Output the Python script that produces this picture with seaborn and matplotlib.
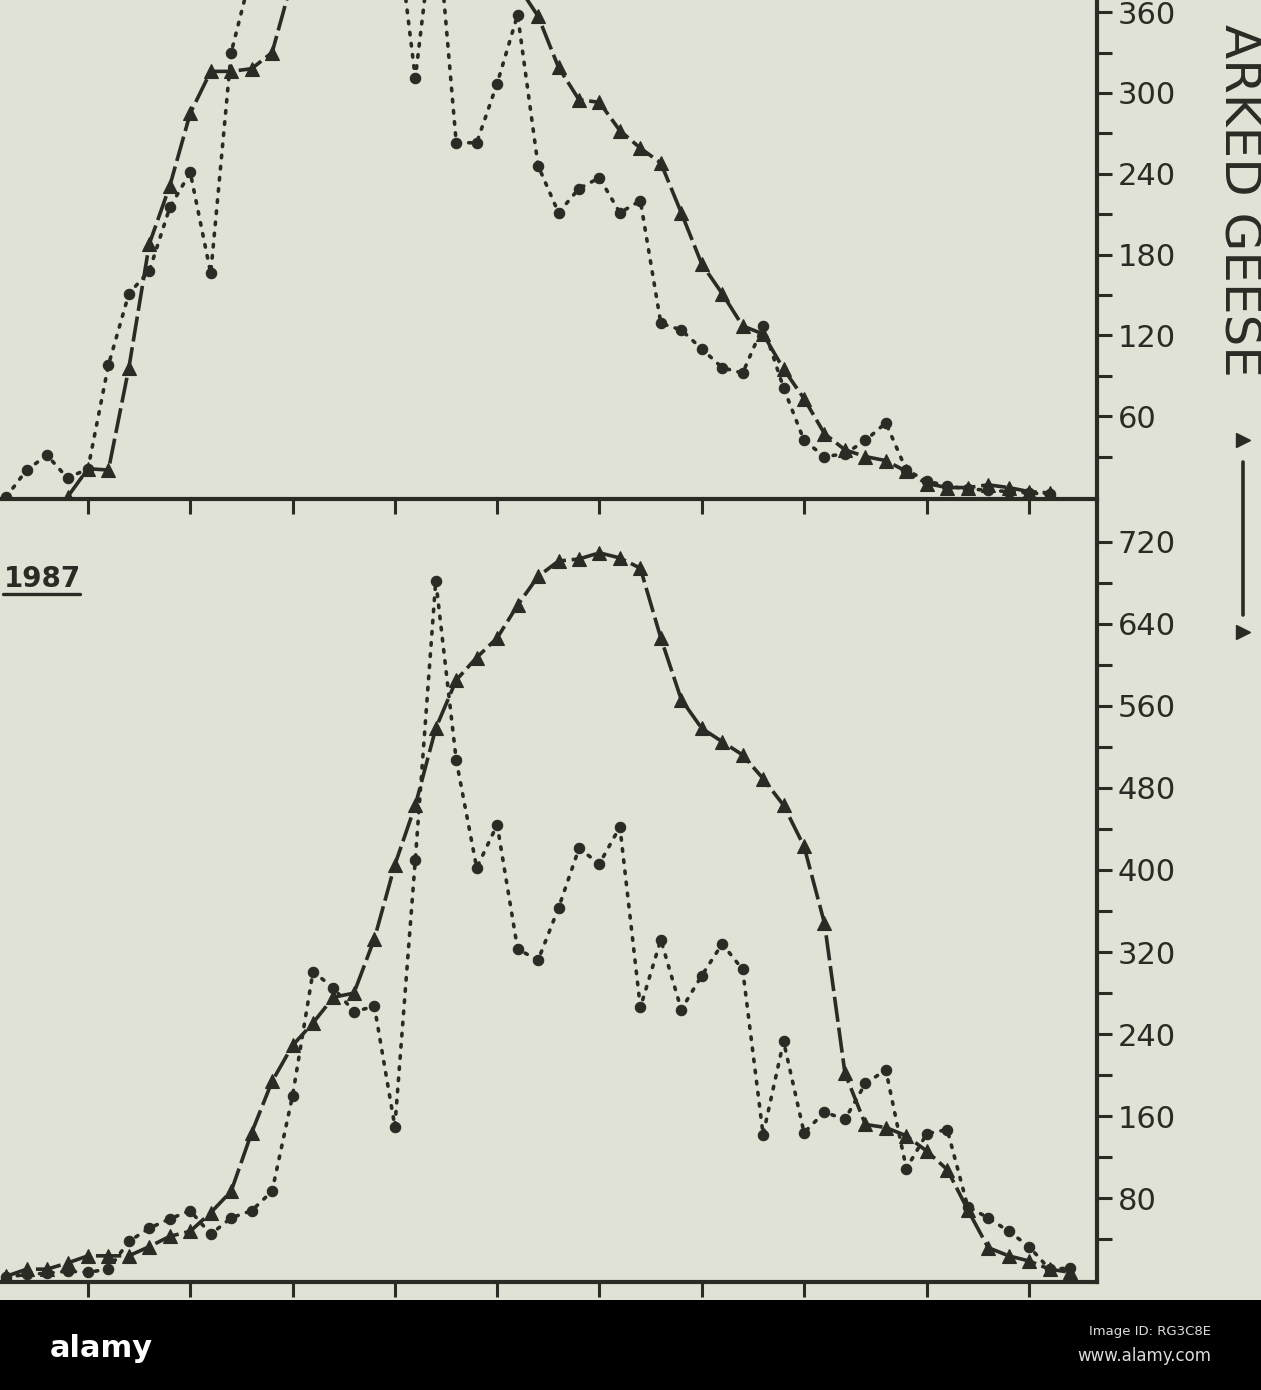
import numpy as np
import pandas as pd
import matplotlib
matplotlib.use("Agg")
import matplotlib.pyplot as plt
import seaborn as sns
from matplotlib.lines import Line2D
from matplotlib.patches import Rectangle
from matplotlib.ticker import FixedLocator

# ------------------------------------------------------------------ data
# x = day index (one point per day); ticks at the marked dates
tick_days = [0, 5, 10, 15, 20, 25, 30, 35, 41, 46]

# upper panel (year cut off at the top of the picture)
top_tri_days = list(range(-1, 48))
top_tri = [0, 21, 20, 96, 188, 231, 285, 316, 316, 318, 330, 385, 400, 415, 430,
           440, 445, 440, 430, 420, 405, 395, 380, 357, 319, 295, 293, 272, 259,
           248, 211, 173, 151, 127, 121, 95, 73, 47, 35, 30, 27, 19, 10, 7, 7, 9,
           7, 4, 3]
top_dot_days = list(range(-4, 48))
top_dot = [0, 20, 31, 14, 21, 98, 151, 168, 215, 241, 166, 330, 390, 420, 450,
           470, 445, 460, 440, 437, 311, 440, 263, 263, 307, 358, 246, 211, 229,
           237, 211, 220, 129, 124, 110, 96, 92, 127, 81, 42, 30, 32, 42, 55, 20,
           12, 8, 6, 5, 4, 3, 2]

# lower panel: 1987
low_days = list(range(-4, 49))
low_tri = [4, 11, 11, 17, 24, 24, 24, 33, 43, 48, 66, 87, 144, 194, 229, 251,
           276, 280, 333, 405, 463, 538, 585, 607, 626, 658, 686, 701, 703, 709,
           704, 694, 626, 566, 538, 525, 512, 489, 463, 423, 348, 202, 152, 149,
           141, 126, 108, 69, 32, 24, 19, 11, 8]
low_dot = [3, 6, 7, 9, 8, 11, 38, 51, 60, 68, 45, 61, 68, 87, 180, 301, 285,
           262, 267, 150, 410, 682, 507, 402, 444, 323, 312, 363, 421, 406, 442,
           266, 332, 264, 297, 328, 303, 142, 233, 144, 164, 157, 192, 205, 109,
           143, 147, 72, 61, 48, 33, 11, 12]

top_yticks = [60, 120, 180, 240, 300, 360]
top_yminor = [30, 90, 150, 210, 270, 330]
low_yticks = [80, 160, 240, 320, 400, 480, 560, 640, 720]
low_yminor = [40, 120, 200, 280, 360, 440, 520, 600, 680]
panel_label = "1987"
axis_title = "ARKED GEESE"   # visible part of the (cropped) axis title
banner_logo = "alamy"
banner_id = "Image ID: RG3C8E"
banner_url = "www.alamy.com"

# ------------------------------------------------------------------ style
INK = "#2b2b25"
BG = "#dfe2d4"
W, H = 1261, 1390

sns.set_theme(style="white")
plt.rcParams["font.family"] = ["DejaVu Sans"]
plt.rcParams["axes.facecolor"] = "none"


def fx(px):
    return px / W


def fy(py):
    return 1 - py / H


fig = plt.figure(figsize=(W / 100, H / 100), dpi=100, facecolor=BG)

ax1 = fig.add_axes([0, fy(499), fx(1097), 499 / H])
ax2 = fig.add_axes([0, fy(1282), fx(1097), (1282 - 501) / H])

tri_kw = dict(color=INK, lw=2.6, marker="^", markersize=10, markeredgecolor=INK,
              markeredgewidth=0.8, linestyle=(0, (7, 1.6)), estimator=None,
              errorbar=None, dash_capstyle="butt", zorder=3)
dot_kw = dict(color=INK, lw=2.6, marker="o", markersize=7.5, markeredgecolor=INK,
              markeredgewidth=0.8, linestyle=(0, (0.7, 2.4)), estimator=None,
              errorbar=None, dash_capstyle="round", zorder=3)

df_tt = pd.DataFrame({"day": top_tri_days, "n": top_tri})
df_td = pd.DataFrame({"day": top_dot_days, "n": top_dot})
df_lt = pd.DataFrame({"day": low_days, "n": low_tri})
df_ld = pd.DataFrame({"day": low_days, "n": low_dot})

sns.lineplot(data=df_td, x="day", y="n", ax=ax1, **dot_kw)
sns.lineplot(data=df_tt, x="day", y="n", ax=ax1, **tri_kw)
sns.lineplot(data=df_ld, x="day", y="n", ax=ax2, **dot_kw)
sns.lineplot(data=df_lt, x="day", y="n", ax=ax2, **tri_kw)

x_lo, x_hi = -4.30, 49.32
for ax, lim, maj, mnr in ((ax1, (-1.5, 369.0), top_yticks, top_yminor),
                          (ax2, (-1.5, 759.5), low_yticks, low_yminor)):
    ax.set_xlim(x_lo, x_hi)
    ax.set_ylim(*lim)
    ax.set_xlabel("")
    ax.set_ylabel("")
    for s in ("left", "top"):
        ax.spines[s].set_visible(False)
    for s in ("right", "bottom"):
        ax.spines[s].set_visible(True)
        ax.spines[s].set_color(INK)
        ax.spines[s].set_linewidth(3.0)
    ax.xaxis.set_major_locator(FixedLocator(tick_days))
    ax.yaxis.set_major_locator(FixedLocator(maj))
    ax.yaxis.set_minor_locator(FixedLocator(mnr))
    ax.yaxis.tick_right()
    ax.tick_params(axis="x", which="both", direction="out", length=11, width=2.2,
                   color=INK, bottom=True, top=False, labelbottom=False)
    ax.tick_params(axis="y", which="both", direction="out", length=11, width=2.2,
                   color=INK, right=True, left=False, labelright=True,
                   labelleft=False, labelsize=22, labelcolor=INK, pad=4)
    ax.grid(False)

# rotated axis title and its key (triangle line)
fig.text(fx(1238), fy(377), axis_title, rotation=270, ha="center", va="bottom",
         fontsize=36, color=INK)
fig.add_artist(Line2D([fx(1243), fx(1243)], [fy(462), fy(615)],
                      transform=fig.transFigure, color=INK, lw=2.6))
fig.add_artist(Line2D([fx(1243), fx(1243)], [fy(440), fy(632)],
                      transform=fig.transFigure, color=INK, lw=0,
                      marker=">", markersize=10, markeredgecolor=INK))

# panel label
fig.text(fx(4), fy(587), panel_label, fontsize=20, ha="left", va="baseline",
         color=INK, fontweight="bold")
fig.add_artist(Line2D([fx(3), fx(80)], [fy(594), fy(594)],
                      transform=fig.transFigure, color=INK, lw=2.4))

# bottom banner
fig.add_artist(Rectangle((0, 0), 1, 90 / H, transform=fig.transFigure,
                         facecolor="black", edgecolor="none"))
fig.text(fx(50), fy(1357), banner_logo, color="white", fontsize=22,
         fontweight="bold", ha="left", va="baseline")
fig.text(fx(1211), fy(1332), banner_id, color="#dcdcdc", fontsize=9.5,
         ha="right", va="center")
fig.text(fx(1211), fy(1356), banner_url, color="#dcdcdc", fontsize=12,
         ha="right", va="center")

fig.savefig("out.png", dpi=100, facecolor=BG)
